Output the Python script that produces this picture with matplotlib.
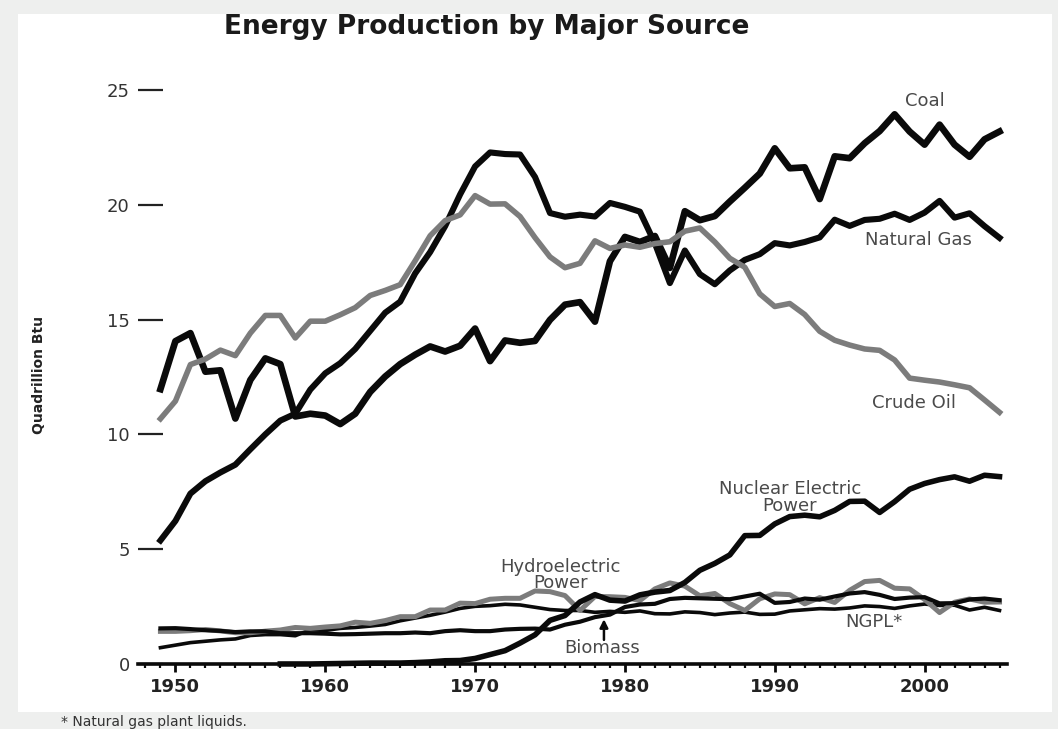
import numpy as np
import matplotlib
matplotlib.use("Agg")
import matplotlib.pyplot as plt
from matplotlib.patches import Rectangle
from matplotlib.ticker import MultipleLocator

years = list(range(1949, 2006))

coal = [11.97, 14.06, 14.41, 12.73, 12.79, 10.69, 12.37, 13.31, 13.06, 10.78,
        10.90, 10.82, 10.45, 10.90, 11.85, 12.52, 13.06, 13.47, 13.83, 13.61,
        13.86, 14.61, 13.19, 14.09, 13.99, 14.07, 14.99, 15.65, 15.76, 14.91,
        17.54, 18.60, 18.38, 18.64, 17.25, 19.72, 19.33, 19.51, 20.14, 20.74,
        21.36, 22.46, 21.59, 21.63, 20.25, 22.11, 22.03, 22.68, 23.21, 23.94,
        23.19, 22.62, 23.49, 22.62, 22.09, 22.85, 23.19]

natural_gas = [5.38, 6.23, 7.42, 7.96, 8.34, 8.68, 9.35, 10.00, 10.60, 10.90,
               11.95, 12.66, 13.10, 13.72, 14.51, 15.30, 15.78, 17.01, 17.94, 19.07,
               20.45, 21.67, 22.28, 22.21, 22.19, 21.21, 19.64, 19.48, 19.57, 19.49,
               20.08, 19.91, 19.70, 18.32, 16.59, 18.01, 16.98, 16.54, 17.14, 17.60,
               17.85, 18.33, 18.23, 18.38, 18.58, 19.35, 19.08, 19.34, 19.39, 19.61,
               19.34, 19.66, 20.17, 19.44, 19.63, 19.07, 18.56]

crude_oil = [10.68, 11.45, 13.04, 13.28, 13.67, 13.43, 14.41, 15.18, 15.18, 14.20,
             14.93, 14.93, 15.21, 15.52, 16.05, 16.27, 16.52, 17.56, 18.65, 19.31,
             19.56, 20.40, 20.03, 20.04, 19.49, 18.57, 17.73, 17.26, 17.45, 18.43,
             18.10, 18.25, 18.15, 18.31, 18.39, 18.85, 18.99, 18.38, 17.67, 17.28,
             16.12, 15.57, 15.70, 15.22, 14.49, 14.10, 13.89, 13.72, 13.66, 13.24,
             12.45, 12.36, 12.28, 12.16, 12.03, 11.50, 10.96]

nuclear_years = list(range(1957, 2006))
nuclear = [0.00, 0.00, 0.00, 0.01, 0.02, 0.03, 0.04, 0.04, 0.04, 0.06, 0.09, 0.14,
           0.15, 0.24, 0.41, 0.58, 0.91, 1.27, 1.90, 2.11, 2.70, 3.02, 2.78, 2.74,
           3.01, 3.13, 3.20, 3.55, 4.08, 4.38, 4.75, 5.59, 5.60, 6.10, 6.42, 6.48,
           6.41, 6.69, 7.08, 7.09, 6.60, 7.07, 7.61, 7.86, 8.03, 8.15, 7.96, 8.22,
           8.16]

hydro = [1.42, 1.42, 1.45, 1.50, 1.44, 1.36, 1.36, 1.43, 1.48, 1.59,
         1.55, 1.61, 1.66, 1.82, 1.77, 1.89, 2.06, 2.06, 2.35, 2.35,
         2.65, 2.63, 2.82, 2.86, 2.86, 3.18, 3.15, 2.98, 2.33, 2.94,
         2.93, 2.90, 2.76, 3.27, 3.53, 3.39, 2.97, 3.07, 2.63, 2.33,
         2.84, 3.05, 3.02, 2.62, 2.89, 2.68, 3.21, 3.59, 3.64, 3.30,
         3.27, 2.81, 2.24, 2.69, 2.83, 2.69, 2.70]

biomass = [1.55, 1.56, 1.52, 1.47, 1.44, 1.39, 1.42, 1.42, 1.34, 1.34,
           1.34, 1.32, 1.29, 1.30, 1.32, 1.34, 1.34, 1.37, 1.34, 1.43,
           1.47, 1.43, 1.43, 1.50, 1.53, 1.54, 1.50, 1.71, 1.84, 2.04,
           2.15, 2.48, 2.59, 2.62, 2.83, 2.88, 2.86, 2.84, 2.82, 2.94,
           3.06, 2.66, 2.70, 2.85, 2.80, 2.94, 3.07, 3.13, 3.01, 2.83,
           2.89, 2.91, 2.64, 2.65, 2.81, 2.85, 2.78]

ngpl = [0.71, 0.82, 0.93, 0.99, 1.05, 1.09, 1.24, 1.28, 1.28, 1.23,
        1.49, 1.46, 1.55, 1.59, 1.65, 1.72, 1.88, 2.00, 2.12, 2.26,
        2.42, 2.51, 2.54, 2.60, 2.57, 2.47, 2.37, 2.33, 2.33, 2.25,
        2.29, 2.25, 2.31, 2.19, 2.18, 2.27, 2.24, 2.15, 2.22, 2.26,
        2.16, 2.17, 2.31, 2.36, 2.41, 2.39, 2.44, 2.53, 2.50, 2.42,
        2.53, 2.61, 2.55, 2.56, 2.35, 2.47, 2.33]

y_ticks = [0, 5, 10, 15, 20, 25]
x_ticks = [1950, 1960, 1970, 1980, 1990, 2000]

BLACK = "#0a0a0a"
GRAY  = "#7c7c7c"
LABEL = "#4a4a4a"

fig = plt.figure(figsize=(10.58, 7.29), dpi=100, facecolor="#eeefee")
fig.add_artist(Rectangle((0.017, 0.0233), 0.977, 0.9575, transform=fig.transFigure,
                         facecolor="white", edgecolor="none", zorder=0))

ax = fig.add_axes([0.1304, 0.0892, 0.8214, 0.8346])
ax.set_facecolor("none")
ax.set_xlim(1947.5, 2005.5)
ax.set_ylim(0, 26.5)

# small series first, big ones on top
ax.plot(years, ngpl, color=BLACK, lw=2.6, clip_on=False, zorder=3)
ax.plot(years, hydro, color=GRAY, lw=3.6, clip_on=False, zorder=3)
ax.plot(years, biomass, color=BLACK, lw=3.0, clip_on=False, zorder=4)
ax.plot(nuclear_years, nuclear, color=BLACK, lw=4.0, clip_on=False, zorder=4)
ax.plot(years, natural_gas, color=BLACK, lw=4.4, clip_on=False, zorder=5)
ax.plot(years, coal, color=BLACK, lw=4.8, clip_on=False, zorder=5)
ax.plot(years, crude_oil, color=GRAY, lw=4.0, clip_on=False, zorder=6)

for s in ["left", "right", "top"]:
    ax.spines[s].set_visible(False)
ax.spines["bottom"].set_linewidth(2.6)
ax.spines["bottom"].set_color(BLACK)

ax.set_yticks(y_ticks)
ax.tick_params(axis="y", direction="in", length=18, width=1.6, color="#222222",
               pad=6, labelsize=13, labelcolor="#333333")
ax.set_xticks(x_ticks)
ax.xaxis.set_minor_locator(MultipleLocator(1))
ax.tick_params(axis="x", which="major", direction="out", length=6, width=2,
               color=BLACK, pad=4, labelsize=13, labelcolor="#222222")
ax.tick_params(axis="x", which="minor", direction="out", length=3, width=1.6, color=BLACK)
for lbl in ax.get_xticklabels():
    lbl.set_fontweight("bold")

ax.set_ylabel("Quadrillion Btu", fontsize=10, fontweight="bold", color="#222222")
ax.yaxis.set_label_coords(-0.106, 0.475)

fig.text(0.46, 0.963, "Energy Production by Major Source", ha="center", va="center",
         fontsize=19, fontweight="bold", color="#1a1a1a")

txt = dict(fontsize=13, color=LABEL, ha="center", va="center")
ax.text(2000.0, 24.5, "Coal", **txt)
ax.text(1999.6, 18.47, "Natural Gas", **txt)
ax.text(1999.3, 11.37, "Crude Oil", **txt)
ax.text(1991.0, 7.25, "Nuclear Electric\nPower", linespacing=0.95, **txt)
ax.text(1975.7, 3.88, "Hydroelectric\nPower", linespacing=0.85, **txt)
ax.text(1996.6, 1.83, "NGPL*", **txt)
ax.text(1978.5, 0.7, "Biomass", **txt)
ax.annotate("", xy=(1978.6, 1.95), xytext=(1978.6, 1.05),
            arrowprops=dict(arrowstyle="-|>", color=BLACK, lw=1.8, mutation_scale=12,
                            shrinkA=0, shrinkB=0), zorder=7)

fig.text(0.058, 0.01, "* Natural gas plant liquids.", ha="left", va="center",
         fontsize=10, color="#333333")

plt.savefig("out.png", dpi=100, facecolor=fig.get_facecolor())
plt.close()
